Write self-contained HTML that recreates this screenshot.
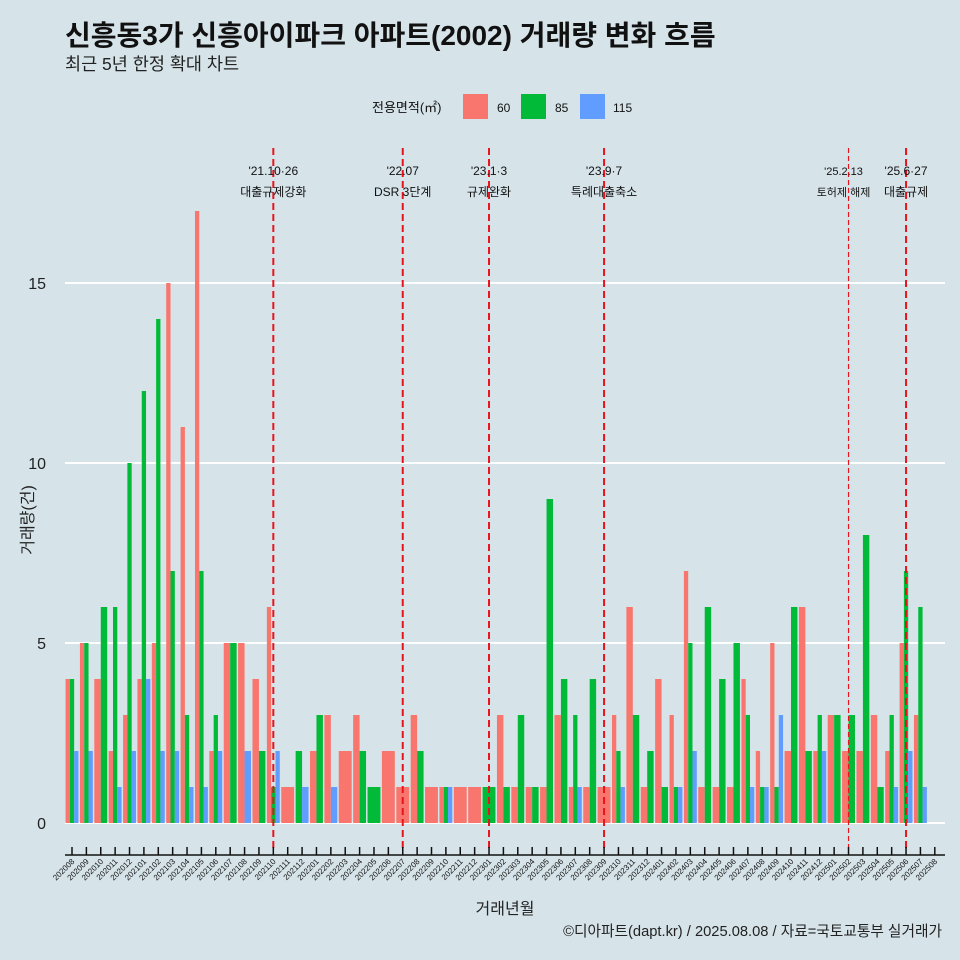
<!DOCTYPE html>
<html><head><meta charset="utf-8"><style>
body{margin:0;background:#d6e4ea;}
svg{display:block;font-family:"Liberation Sans","Noto Sans CJK KR",sans-serif;}
</style></head><body>
<svg id="chart" width="960" height="960" viewBox="0 0 960 960">
<rect width="960" height="960" fill="#d6e4ea"/>
<text x="65" y="45" font-size="28" font-weight="bold" fill="#111">신흥동3가 신흥아이파크 아파트(2002) 거래량 변화 흐름</text>
<text x="65" y="70" font-size="17.5" fill="#222">최근 5년 한정 확대 차트</text>
<g>
<text x="372" y="112" font-size="13" fill="#111">전용면적(㎡)</text>
<rect x="463" y="94" width="25" height="25" fill="#f8766d"/>
<text x="497" y="112" font-size="12" fill="#111">60</text>
<rect x="521" y="94" width="25" height="25" fill="#00ba38"/>
<text x="555" y="112" font-size="12" fill="#111">85</text>
<rect x="580" y="94" width="25" height="25" fill="#619cff"/>
<text x="613" y="112" font-size="12" fill="#111">115</text>
</g>
<g id="grid"></g><g id="bars"></g><g id="events"></g><g id="axes"></g>
<text x="0" y="0" transform="translate(33,520) rotate(-90)" text-anchor="middle" font-size="16" fill="#222">거래량(건)</text>
<text x="505" y="914" text-anchor="middle" font-size="16" fill="#222">거래년월</text>
<text x="942" y="936" text-anchor="end" font-size="14.7" fill="#222">©디아파트(dapt.kr) / 2025.08.08 / 자료=국토교통부 실거래가</text>
</svg>
<script>
const months=["202008","202009","202010","202011","202012","202101","202102","202103","202104","202105","202106","202107","202108","202109","202110","202111","202112","202201","202202","202203","202204","202205","202206","202207","202208","202209","202210","202211","202212","202301","202302","202303","202304","202305","202306","202307","202308","202309","202310","202311","202312","202401","202402","202403","202404","202405","202406","202407","202408","202409","202410","202411","202412","202501","202502","202503","202504","202505","202506","202507","202508"];
const s60=[4,5,4,2,3,4,5,15,11,17,2,5,5,4,6,1,0,2,3,2,3,0,2,1,3,1,1,1,1,0,3,1,1,1,3,1,1,1,3,6,1,4,3,7,1,1,1,4,2,5,2,6,2,3,2,2,3,2,5,3,0];
const s85=[4,5,6,6,10,12,14,7,3,7,3,5,0,2,1,0,2,3,0,0,2,1,0,0,2,0,1,0,0,1,1,3,1,9,4,3,4,0,2,3,2,1,1,5,6,4,5,3,1,1,6,2,3,3,3,8,1,3,7,6,0];
const s115=[2,2,0,1,2,4,2,2,1,1,2,0,2,0,2,0,1,0,1,0,0,0,0,0,0,0,1,0,0,0,0,0,0,0,0,1,0,0,1,0,0,0,1,2,0,0,0,1,1,3,0,0,2,0,0,0,0,1,2,1,0];
const yTicks=[0,5,10,15];
const eventMonths=["202110","202207","202301","202309","202502","202506"];
const eventDates=["'21.10·26","'22.07","'23.1·3","'23.9·7","'25.2.13","'25.6·27"];
const eventNotes=["대출규제강화","DSR 3단계","규제완화","특례대출축소","토허제 해제","대출규제"];
const NS="http://www.w3.org/2000/svg";
const x0=72,step=14.38,y0=823,unit=36,bw=12.9;
const xs=i=>x0+i*step, ys=v=>y0-v*unit;
function mk(tag,attrs,parent){const e=document.createElementNS(NS,tag);for(const k in attrs)e.setAttribute(k,attrs[k]);parent.appendChild(e);return e;}
const grid=document.getElementById('grid'),bars=document.getElementById('bars'),ev=document.getElementById('events'),axes=document.getElementById('axes');
yTicks.forEach(t=>{
 const l=mk('line',{x1:65,x2:945,y1:ys(t),y2:ys(t),stroke:'#fff','stroke-width':2},grid);
 
 
 const tx=mk('text',{x:46,y:ys(t)+6,'text-anchor':'end','font-size':16,fill:'#222'},axes);
 
 
 tx.textContent=t;
});
const series=[[s60,'#f8766d','60'],[s85,'#00ba38','85'],[s115,'#619cff','115']];
months.forEach((m,i)=>{
 const present=series.filter(s=>s[0][i]>0);
 const w=bw/Math.max(present.length,1);
 present.forEach((s,j)=>{
  const v=s[0][i];
  const r=mk('rect',{x:xs(i)-bw/2+j*w,y:ys(v),width:w,height:v*unit,fill:s[1]},bars);
  
  
 });
});
eventMonths.forEach((m,k)=>{
 const i=months.indexOf(m);const x=xs(i);
 const thin=m==="202502";
 const l=mk('line',{x1:x,x2:x,y1:148,y2:850,stroke:'#e8141c','stroke-width':thin?1.2:2,'stroke-dasharray':thin?'5,3':'7,4'},ev);
 
 
 const off=m==="202502"?-5:0;
 const t1=mk('text',{x:x+off,y:175,'text-anchor':'middle','font-size':thin?11:12,fill:'#111'},ev);
 
 
 t1.textContent=eventDates[k];
 const t2=mk('text',{x:x+off,y:196,'text-anchor':'middle','font-size':thin?11:12,fill:'#111'},ev);
 
 
 t2.textContent=eventNotes[k];
});
const ax=mk('line',{x1:65,x2:945,y1:855,y2:855,stroke:'#111','stroke-width':1.5},axes);


months.forEach((m,i)=>{
 const x=xs(i);
 const tk=mk('line',{x1:x,x2:x,y1:847,y2:855,stroke:'#111','stroke-width':1.5},axes);
 
 
 const t=mk('text',{x:0,y:0,transform:`translate(${x+3},${862}) rotate(-45)`,'text-anchor':'end','font-size':8,fill:'#111'},axes);
 
 
 t.textContent=m;
});
</script>
</body></html>
